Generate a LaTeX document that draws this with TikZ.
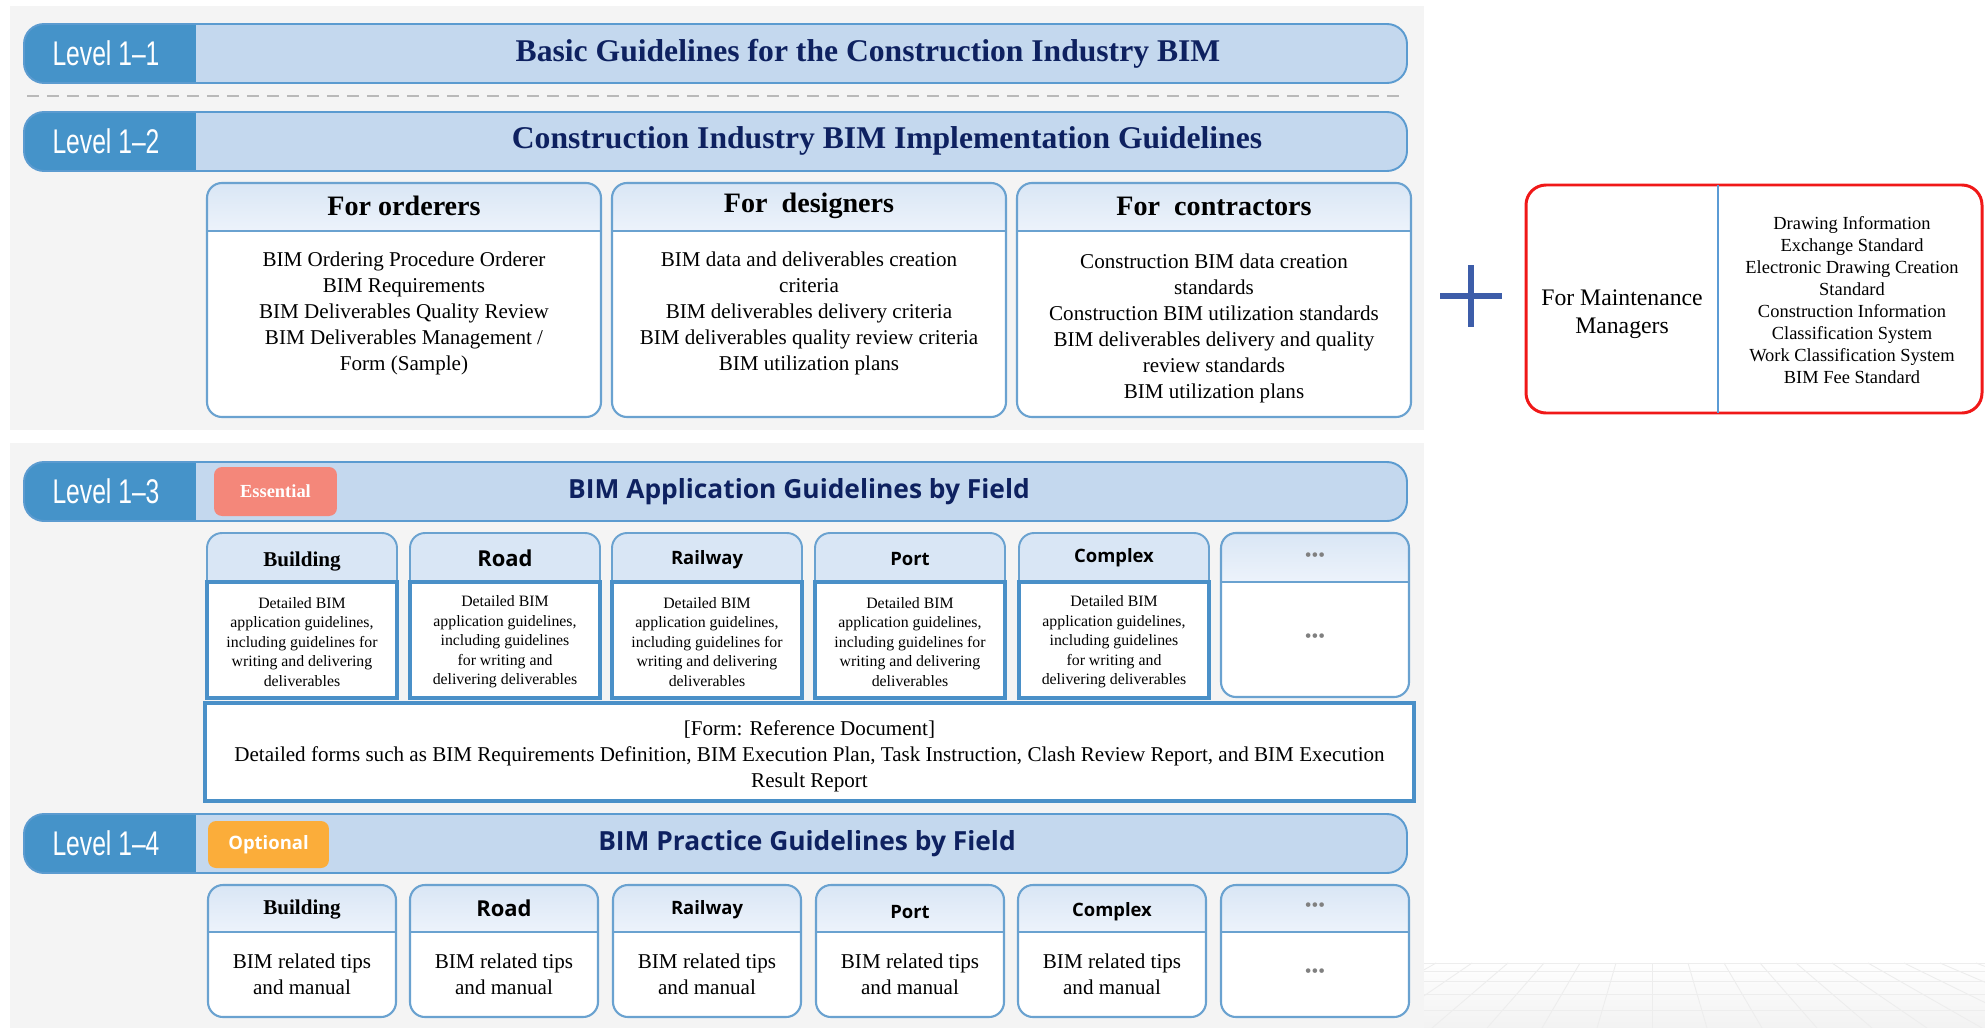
\documentclass[tikz,border=0pt]{standalone}
\usepackage{fontspec}
\setmainfont{Liberation Serif}
\newfontfamily\osans{Open Sans}
\newfontfamily\lvfont[FakeStretch=0.72]{Liberation Sans}
\definecolor{panelgray}{HTML}{F4F4F4}
\definecolor{barlight}{HTML}{C4D8EE}
\definecolor{bardark}{HTML}{4593C9}
\definecolor{barblue}{HTML}{5B9BD0}
\definecolor{navy}{HTML}{0E2160}
\definecolor{grpblue}{HTML}{6AA2D0}
\definecolor{hdtop}{HTML}{D9E6F5}
\definecolor{hdbot}{HTML}{EDF3FB}
\definecolor{thickblue}{HTML}{4A90C8}
\definecolor{essred}{HTML}{F4877A}
\definecolor{optorange}{HTML}{FBAD3A}
\definecolor{redline}{HTML}{F01818}
\definecolor{divblue}{HTML}{5B9BD5}
\definecolor{plusblue}{HTML}{3D5DA9}

\begin{document}
\begin{tikzpicture}[
					x=0.02cm,y=-0.02cm,
					panel/.style={fill=panelgray},
					lvedge/.style={draw=barblue,line width=1.1pt,rounded corners=0.4cm},
					lvtext/.style={text=white,font=\lvfont\fontsize{19.5}{22}\selectfont},
					ttlserif/.style={text=navy,font=\bfseries\fontsize{18}{22}\selectfont},
					ttlsans/.style={text=navy,font=\osans\bfseries\fontsize{15}{18}\selectfont},
					sepdash/.style={draw=gray!55,line width=1.4pt,dash pattern=on 0.24cm off 0.16cm},
					grpedge/.style={draw=grpblue,line width=1.2pt},
					hdshade/.style={top color=hdtop,bottom color=hdbot},
					grphead/.style={font=\bfseries\fontsize{16}{19}\selectfont},
					grpbody/.style={align=center,font=\fontsize{12}{14.8}\selectfont},
					redbox/.style={draw=redline,line width=1.7pt,rounded corners=0.4cm},
					mdiv/.style={draw=divblue,line width=1.3pt},
					mleft/.style={align=center,font=\fontsize{13.5}{16}\selectfont},
					mright/.style={align=center,font=\fontsize{10.5}{12.5}\selectfont},
					plusbar/.style={draw=plusblue,line width=3.4pt},
					badge/.style={rounded corners=0.16cm,text=white,inner sep=0pt},
					fldhead/.style={draw=grpblue,line width=1.1pt,fill=hdtop,rounded corners=0.3cm},
					fldbody/.style={draw=thickblue,line width=2.3pt,fill=white},
					fldserif/.style={font=\bfseries\fontsize{12}{14}\selectfont},
					fldsans/.style={font=\osans\bfseries\fontsize{10.5}{12}\selectfont},
					fldtext/.style={align=center,font=\fontsize{9}{11.1}\selectfont},
					dots/.style={text=gray,font=\fontsize{11}{12}\selectfont},
					gridln/.style={draw=gray!14,line width=0.5pt}
					]
\useasboundingbox (0,0) rectangle (1985,1028);
\fill[panel] (10,6) rectangle (1424,430);
\fill[panel] (10,443) rectangle (1424,1028);
\begin{scope}
	\clip (1424,955) rectangle (1985,1028);
	\shade[top color=white,bottom color=gray!10] (1424,960) rectangle (1985,1028);
	\foreach \i in {-8,...,10}{
		\draw[gridln] ({1652+\i*36},963) -- ({1652+\i*55},1028);
	}
	\foreach \yy in {963,971,981,994,1010}{
		\draw[gridln] (1424,\yy) -- (1985,\yy);
	}
\end{scope}

\foreach \k/\yt in {1/24,2/112,3/462,4/814}{
	\begin{scope}
		\clip[rounded corners=0.4cm] (24,\yt) rectangle ++(1383,59);
		\fill[barlight] (24,\yt) rectangle ++(1383,59);
		\fill[bardark] (24,\yt) rectangle ++(172,59);
	\end{scope}
	\draw[lvedge] (24,\yt) rectangle ++(1383,59);
	\node[lvtext] (lv\k) at (106,\yt+29.5) {Level 1–\k};
}
\draw[sepdash] (27,96) -- (1405,96);
\node[ttlserif] (ttl1) at (868,53.5) {Basic Guidelines for the Construction Industry BIM};
\node[ttlserif] (ttl2) at (887,140.5) {Construction Industry BIM Implementation Guidelines};
\node[ttlsans] (ttl3) at (799,491.5) {BIM Application Guidelines by Field};
\node[ttlsans] (ttl4) at (807,843.5) {BIM Practice Guidelines by Field};

\foreach \x in {207,612,1017}{
	\fill[white,rounded corners=0.3cm] (\x,183) rectangle ++(394,234);
	\begin{scope}
		\clip[rounded corners=0.3cm] (\x,183) rectangle ++(394,234);
		\shade[hdshade] (\x,183) rectangle ++(394,48);
	\end{scope}
	\draw[grpedge] (\x,231) -- ++(394,0);
	\draw[grpedge,rounded corners=0.3cm] (\x,183) rectangle ++(394,234);
}
\node[grphead] (hord) at (404,206) {For orderers};
\node[grphead] (hdes) at (809,206) {For\ \ designers};
\node[grphead] (hcon) at (1214,206) {For\ \ contractors};
\node[grpbody] (bord) at (404,313) {BIM Ordering Procedure Orderer\\BIM Requirements\\BIM Deliverables Quality Review\\BIM Deliverables Management /\\Form (Sample)};
\node[grpbody] (bdes) at (809,313) {BIM data and deliverables creation\\criteria\\BIM deliverables delivery criteria\\BIM deliverables quality review criteria\\BIM utilization plans};
\node[grpbody] (bcon) at (1214,328) {Construction BIM data creation\\standards\\Construction BIM utilization standards\\BIM deliverables delivery and quality\\review standards\\BIM utilization plans};

\draw[plusbar] (1440,296) -- (1502,296) (1471,265) -- (1471,327);
\draw[redbox] (1526,185) rectangle (1982,413);
\draw[mdiv] (1718,185) -- (1718,413);
\node[mleft] (mmgr) at (1622,314) {For Maintenance\\Managers};
\node[mright] (mstd) at (1852,300) {Drawing Information\\Exchange Standard\\Electronic Drawing Creation\\Standard\\Construction Information\\Classification System\\Work Classification System\\BIM Fee Standard};

\node[badge,fill=essred,minimum width=2.46cm,minimum height=0.98cm,font=\bfseries\fontsize{10.5}{12}\selectfont] (ess) at (275.5,491.5) {Essential};
\node[badge,fill=optorange,minimum width=2.42cm,minimum height=0.94cm,font=\osans\bfseries\fontsize{10.5}{12}\selectfont] (opt) at (268.5,844.5) {Optional};

\foreach \x in {207,410,612,815,1019}{
	\draw[fldhead] (\x,533) rectangle ++(190,70);
	\draw[fldbody] (\x,582) rectangle ++(190,116);
}
\fill[white,rounded corners=0.3cm] (1221,533) rectangle (1409,697);
\begin{scope}
	\clip[rounded corners=0.3cm] (1221,533) rectangle (1409,697);
	\shade[hdshade] (1221,533) rectangle (1409,582);
\end{scope}
\draw[grpedge] (1221,582) -- (1409,582);
\draw[grpedge,rounded corners=0.3cm] (1221,533) rectangle (1409,697);
\draw[fldbody] (205,703) rectangle (1414,801);

\node[fldserif] (f3a) at (302,562) {Building};
\node[fldsans,font=\osans\bfseries\fontsize{12.5}{14}\selectfont] (f3b) at (505,558) {Road};
\node[fldsans] (f3c) at (707,560) {Railway};
\node[fldsans] (f3d) at (910,559) {Port};
\node[fldsans] (f3e) at (1114,558) {Complex};
\node[dots] (f3f) at (1315,557) {\textbullet\textbullet\textbullet};
\foreach \k/\x in {a/302,c/707,d/910}{
	\node[fldtext] (g3\k) at (\x,642) {Detailed BIM\\application guidelines,\\including guidelines for\\writing and delivering\\deliverables};
}
\foreach \k/\x in {b/505,e/1114}{
	\node[fldtext] (g3\k) at (\x,642) {Detailed BIM\\application guidelines,\\including guidelines\\for writing and\\delivering deliverables};
}
\node[dots] (g3f) at (1315,638) {\textbullet\textbullet\textbullet};
\node[grpbody] (form) at (809.5,756) {[Form: Reference Document]\\Detailed forms such as BIM Requirements Definition, BIM Execution Plan, Task Instruction, Clash Review Report, and BIM Execution\\Result Report};

\foreach \x in {208,410,613,816,1018,1221}{
	\fill[white,rounded corners=0.3cm] (\x,885) rectangle ++(188,132);
	\begin{scope}
		\clip[rounded corners=0.3cm] (\x,885) rectangle ++(188,132);
		\shade[hdshade] (\x,885) rectangle ++(188,47);
	\end{scope}
	\draw[grpedge] (\x,932) -- ++(188,0);
	\draw[grpedge,rounded corners=0.3cm] (\x,885) rectangle ++(188,132);
}
\node[fldserif] (f4a) at (302,910) {Building};
\node[fldsans,font=\osans\bfseries\fontsize{12.5}{14}\selectfont] (f4b) at (504,908) {Road};
\node[fldsans] (f4c) at (707,910) {Railway};
\node[fldsans] (f4d) at (910,912) {Port};
\node[fldsans] (f4e) at (1112,912) {Complex};
\node[dots] (f4f) at (1315,907) {\textbullet\textbullet\textbullet};
\foreach \k/\x in {a/302,b/504,c/707,d/910,e/1112}{
	\node[grpbody] (g4\k) at (\x,974) {BIM related tips\\and manual};
}
\node[dots] (g4f) at (1315,973) {\textbullet\textbullet\textbullet};
\end{tikzpicture}
\end{document}
